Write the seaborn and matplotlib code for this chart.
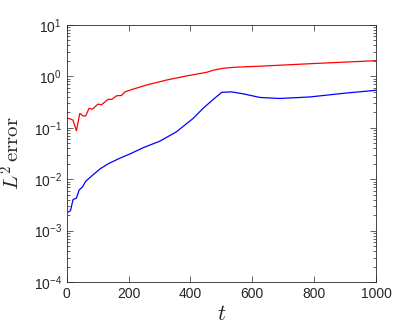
import numpy as np
import pandas as pd
import matplotlib
matplotlib.use('Agg')
import matplotlib.pyplot as plt
import seaborn as sns
from matplotlib.ticker import FixedLocator, FuncFormatter, LogLocator, NullFormatter

# red curve (upper)
t_red = [0, 10, 20, 31, 42, 53, 61, 72, 83, 101, 112, 134, 145, 161, 177, 188, 204,
         258, 323, 387, 452, 474, 506, 538, 625, 800, 1000]
err_red = [0.155, 0.150, 0.141, 0.088, 0.19, 0.17, 0.17, 0.24, 0.23, 0.29, 0.28, 0.36, 0.355,
           0.42, 0.425, 0.50, 0.54, 0.68, 0.85, 1.02, 1.20, 1.32, 1.44, 1.50, 1.58, 1.78, 2.02]

# blue curve (lower)
t_blue = [5, 12, 20, 31, 40, 51, 61, 80, 107, 134, 172, 204, 247, 301, 355, 409, 441,
          474, 501, 533, 571, 625, 689, 786, 894, 1000]
err_blue = [0.0023, 0.00245, 0.0040, 0.0043, 0.0062, 0.0071, 0.0091, 0.0115, 0.0158, 0.020,
            0.0257, 0.031, 0.041, 0.055, 0.084, 0.153, 0.24, 0.358, 0.49, 0.50, 0.457, 0.389,
            0.372, 0.398, 0.468, 0.537]

y_ticks = [1e-4, 1e-3, 1e-2, 1e-1, 1e0, 1e1]
x_ticks = [0, 200, 400, 600, 800, 1000]

df_red = pd.DataFrame({'t': t_red, 'err': err_red})
df_blue = pd.DataFrame({'t': t_blue, 'err': err_blue})

sns.set_style('white')
plt.rcParams['font.family'] = ['Liberation Sans', 'DejaVu Sans']
plt.rcParams['mathtext.fontset'] = 'cm'

fig = plt.figure(figsize=(4.15, 3.33), dpi=100)
ax = fig.add_axes([0.161, 0.153, 0.745, 0.772])

sns.lineplot(data=df_red, x='t', y='err', color='#ff0000', lw=0.9, ax=ax)
sns.lineplot(data=df_blue, x='t', y='err', color='#0000ff', lw=0.9, ax=ax)

ax.set_yscale('log')
ax.set_xlim(0, 1000)
ax.set_ylim(1e-4, 1e1)
ax.set_xticks(x_ticks)
ax.yaxis.set_major_locator(FixedLocator(y_ticks))
ax.yaxis.set_minor_locator(LogLocator(base=10, subs=np.arange(2, 10)))
ax.yaxis.set_minor_formatter(NullFormatter())
ax.yaxis.set_major_formatter(FuncFormatter(
    lambda v, p: r'$\mathregular{10^{%d}}$' % int(round(np.log10(v)))))

edge = '#262626'
for s in ax.spines.values():
    s.set_color(edge)
    s.set_linewidth(0.6)
ax.tick_params(which='both', direction='in', left=True, bottom=True, top=True, right=True,
               colors=edge, labelcolor='#262626', labelsize=10)
ax.tick_params(which='major', length=4, width=0.5)
ax.tick_params(which='minor', length=2, width=0.5)

ax.set_xlabel(r'$t$', fontsize=16, labelpad=2)
ax.set_ylabel(r'$L^2\,\mathrm{error}$', fontsize=15, labelpad=7)

fig.savefig('out.png', dpi=100)
